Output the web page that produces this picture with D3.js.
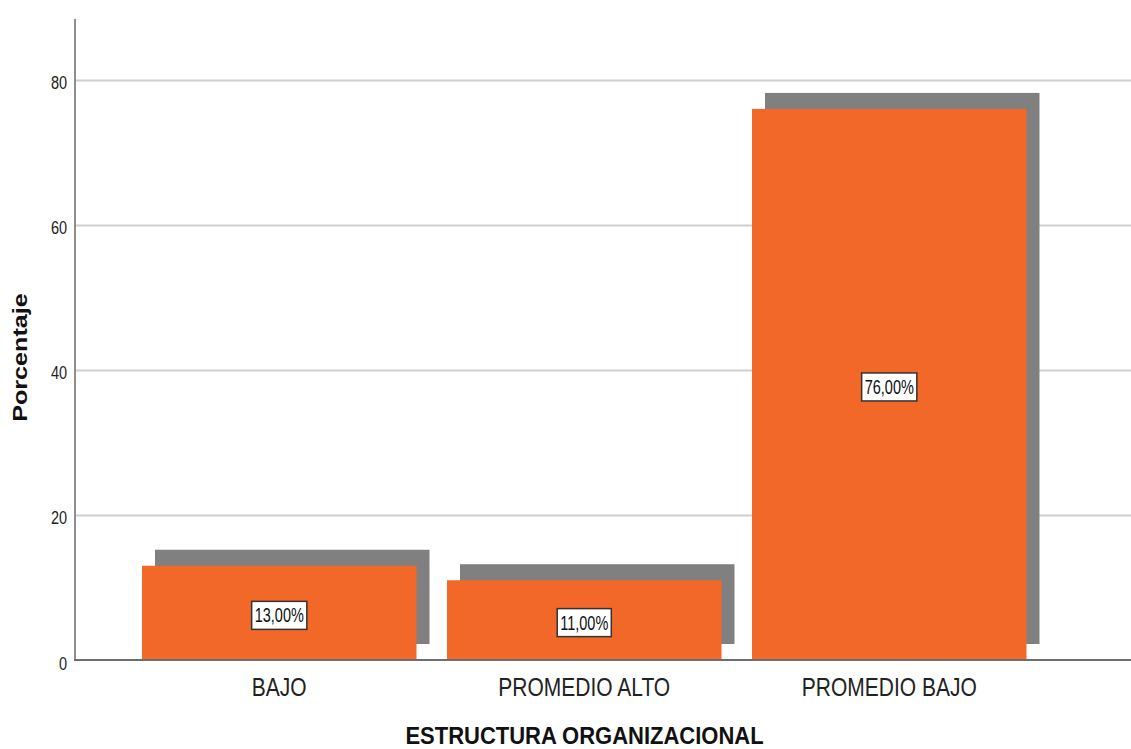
<!DOCTYPE html>
<html>
<head>
<meta charset="utf-8">
<script src="https://cdn.jsdelivr.net/npm/d3@7"></script>
<style>
  html, body { margin: 0; padding: 0; background: #fff; }
  svg { display: block; font-family: "Liberation Sans", Arial, sans-serif; }
</style>
</head>
<body>
<svg id="chart" width="1131" height="749"></svg>
<script>
// Percentage of respondents per level of organisational structure
const categories = ["BAJO", "PROMEDIO ALTO", "PROMEDIO BAJO"];
const percentages = [13, 11, 76];
const valueLabels = ["13,00%", "11,00%", "76,00%"];
const yTicks = [0, 20, 40, 60, 80];

const svg = d3.select("#chart");
const W = 1131;
const axisX = 75, baseY = 660, topY = 19;
const FONT = "'Liberation Sans', Arial, sans-serif";

const y = d3.scaleLinear().domain([0, 88.4]).range([baseY, topY]);
const x = d3.scaleBand()
  .domain(categories)
  .range([126.75, 1041.75])
  .paddingInner(0.1)
  .paddingOuter(0.05);

// horizontal gridlines
svg.append("g")
  .selectAll("line")
  .data(yTicks.filter(d => d > 0))
  .join("line")
  .attr("x1", axisX).attr("x2", W)
  .attr("y1", d => Math.round(y(d)) + 0.5).attr("y2", d => Math.round(y(d)) + 0.5)
  .attr("stroke", "#cfcfcf").attr("stroke-width", 2);

// drop shadows behind each bar
const sdx = 13, sdy = -16;
svg.append("g")
  .selectAll("rect")
  .data(categories)
  .join("rect")
  .attr("x", d => x(d) + sdx)
  .attr("y", (d, i) => y(percentages[i]) + sdy)
  .attr("width", x.bandwidth())
  .attr("height", (d, i) => baseY - y(percentages[i]))
  .attr("fill", "#808080");

// bars
svg.append("g")
  .selectAll("rect")
  .data(categories)
  .join("rect")
  .attr("x", d => x(d))
  .attr("y", (d, i) => y(percentages[i]))
  .attr("width", x.bandwidth())
  .attr("height", (d, i) => baseY - y(percentages[i]))
  .attr("fill", "#F26829");

// y axis (tall, narrow lettering)
const tickSY = 1.22;
const yAxis = d3.axisLeft(y).tickValues(yTicks).tickSize(0).tickPadding(8);
const gy = svg.append("g").attr("transform", `translate(${axisX},0)`).call(yAxis);
gy.select(".domain").remove();
gy.selectAll("text")
  .attr("font-size", 14.5).attr("fill", "#222").attr("font-family", FONT)
  .attr("dy", null).attr("y", 9 / tickSY)
  .attr("transform", `scale(1,${tickSY})`);
svg.append("line")
  .attr("x1", axisX).attr("x2", axisX).attr("y1", topY).attr("y2", baseY)
  .attr("stroke", "#8f8f8f").attr("stroke-width", 2);

// x axis
const catSY = 1.2;
const xAxis = d3.axisBottom(x).tickSize(0);
const gx = svg.append("g").attr("transform", `translate(0,${baseY})`).call(xAxis);
gx.select(".domain").remove();
gx.selectAll("text")
  .attr("font-size", 21).attr("fill", "#222").attr("font-family", FONT)
  .attr("dy", null).attr("y", 36 / catSY)
  .attr("transform", `scale(1,${catSY})`);
svg.append("line")
  .attr("x1", axisX - 1).attr("x2", W).attr("y1", baseY).attr("y2", baseY)
  .attr("stroke", "#6e6e6e").attr("stroke-width", 2);

// value labels in boxes
const labSY = 1.35;
const labels = svg.append("g")
  .selectAll("g")
  .data(categories)
  .join("g")
  .attr("transform", (d, i) => `translate(${x(d) + x.bandwidth() / 2},${(y(percentages[i]) + baseY) / 2 + 2.5})`);
labels.append("text")
  .attr("text-anchor", "middle")
  .attr("y", 7 / labSY)
  .attr("transform", `scale(1,${labSY})`)
  .attr("font-size", 14.5)
  .attr("font-family", FONT)
  .attr("fill", "#111")
  .text((d, i) => valueLabels[i]);
labels.each(function () {
  const g = d3.select(this);
  const bb = g.select("text").node().getBBox();
  const bw = bb.width + 6, bh = 28;
  g.insert("rect", "text")
    .attr("x", -bw / 2).attr("y", -bh / 2)
    .attr("width", bw).attr("height", bh)
    .attr("fill", "#fff").attr("stroke", "#333").attr("stroke-width", 1.5);
});

// axis titles
svg.append("text")
  .attr("transform", "translate(584.5,744) scale(1,1.1)")
  .attr("text-anchor", "middle")
  .attr("font-size", 22).attr("font-weight", "bold").attr("fill", "#111")
  .attr("font-family", FONT)
  .text("ESTRUCTURA ORGANIZACIONAL");
svg.append("text")
  .attr("transform", "translate(27,357.5) rotate(-90) scale(1.29,1)")
  .attr("text-anchor", "middle")
  .attr("font-size", 19.5).attr("font-weight", "bold").attr("fill", "#111")
  .attr("font-family", FONT)
  .text("Porcentaje");
</script>
</body>
</html>
